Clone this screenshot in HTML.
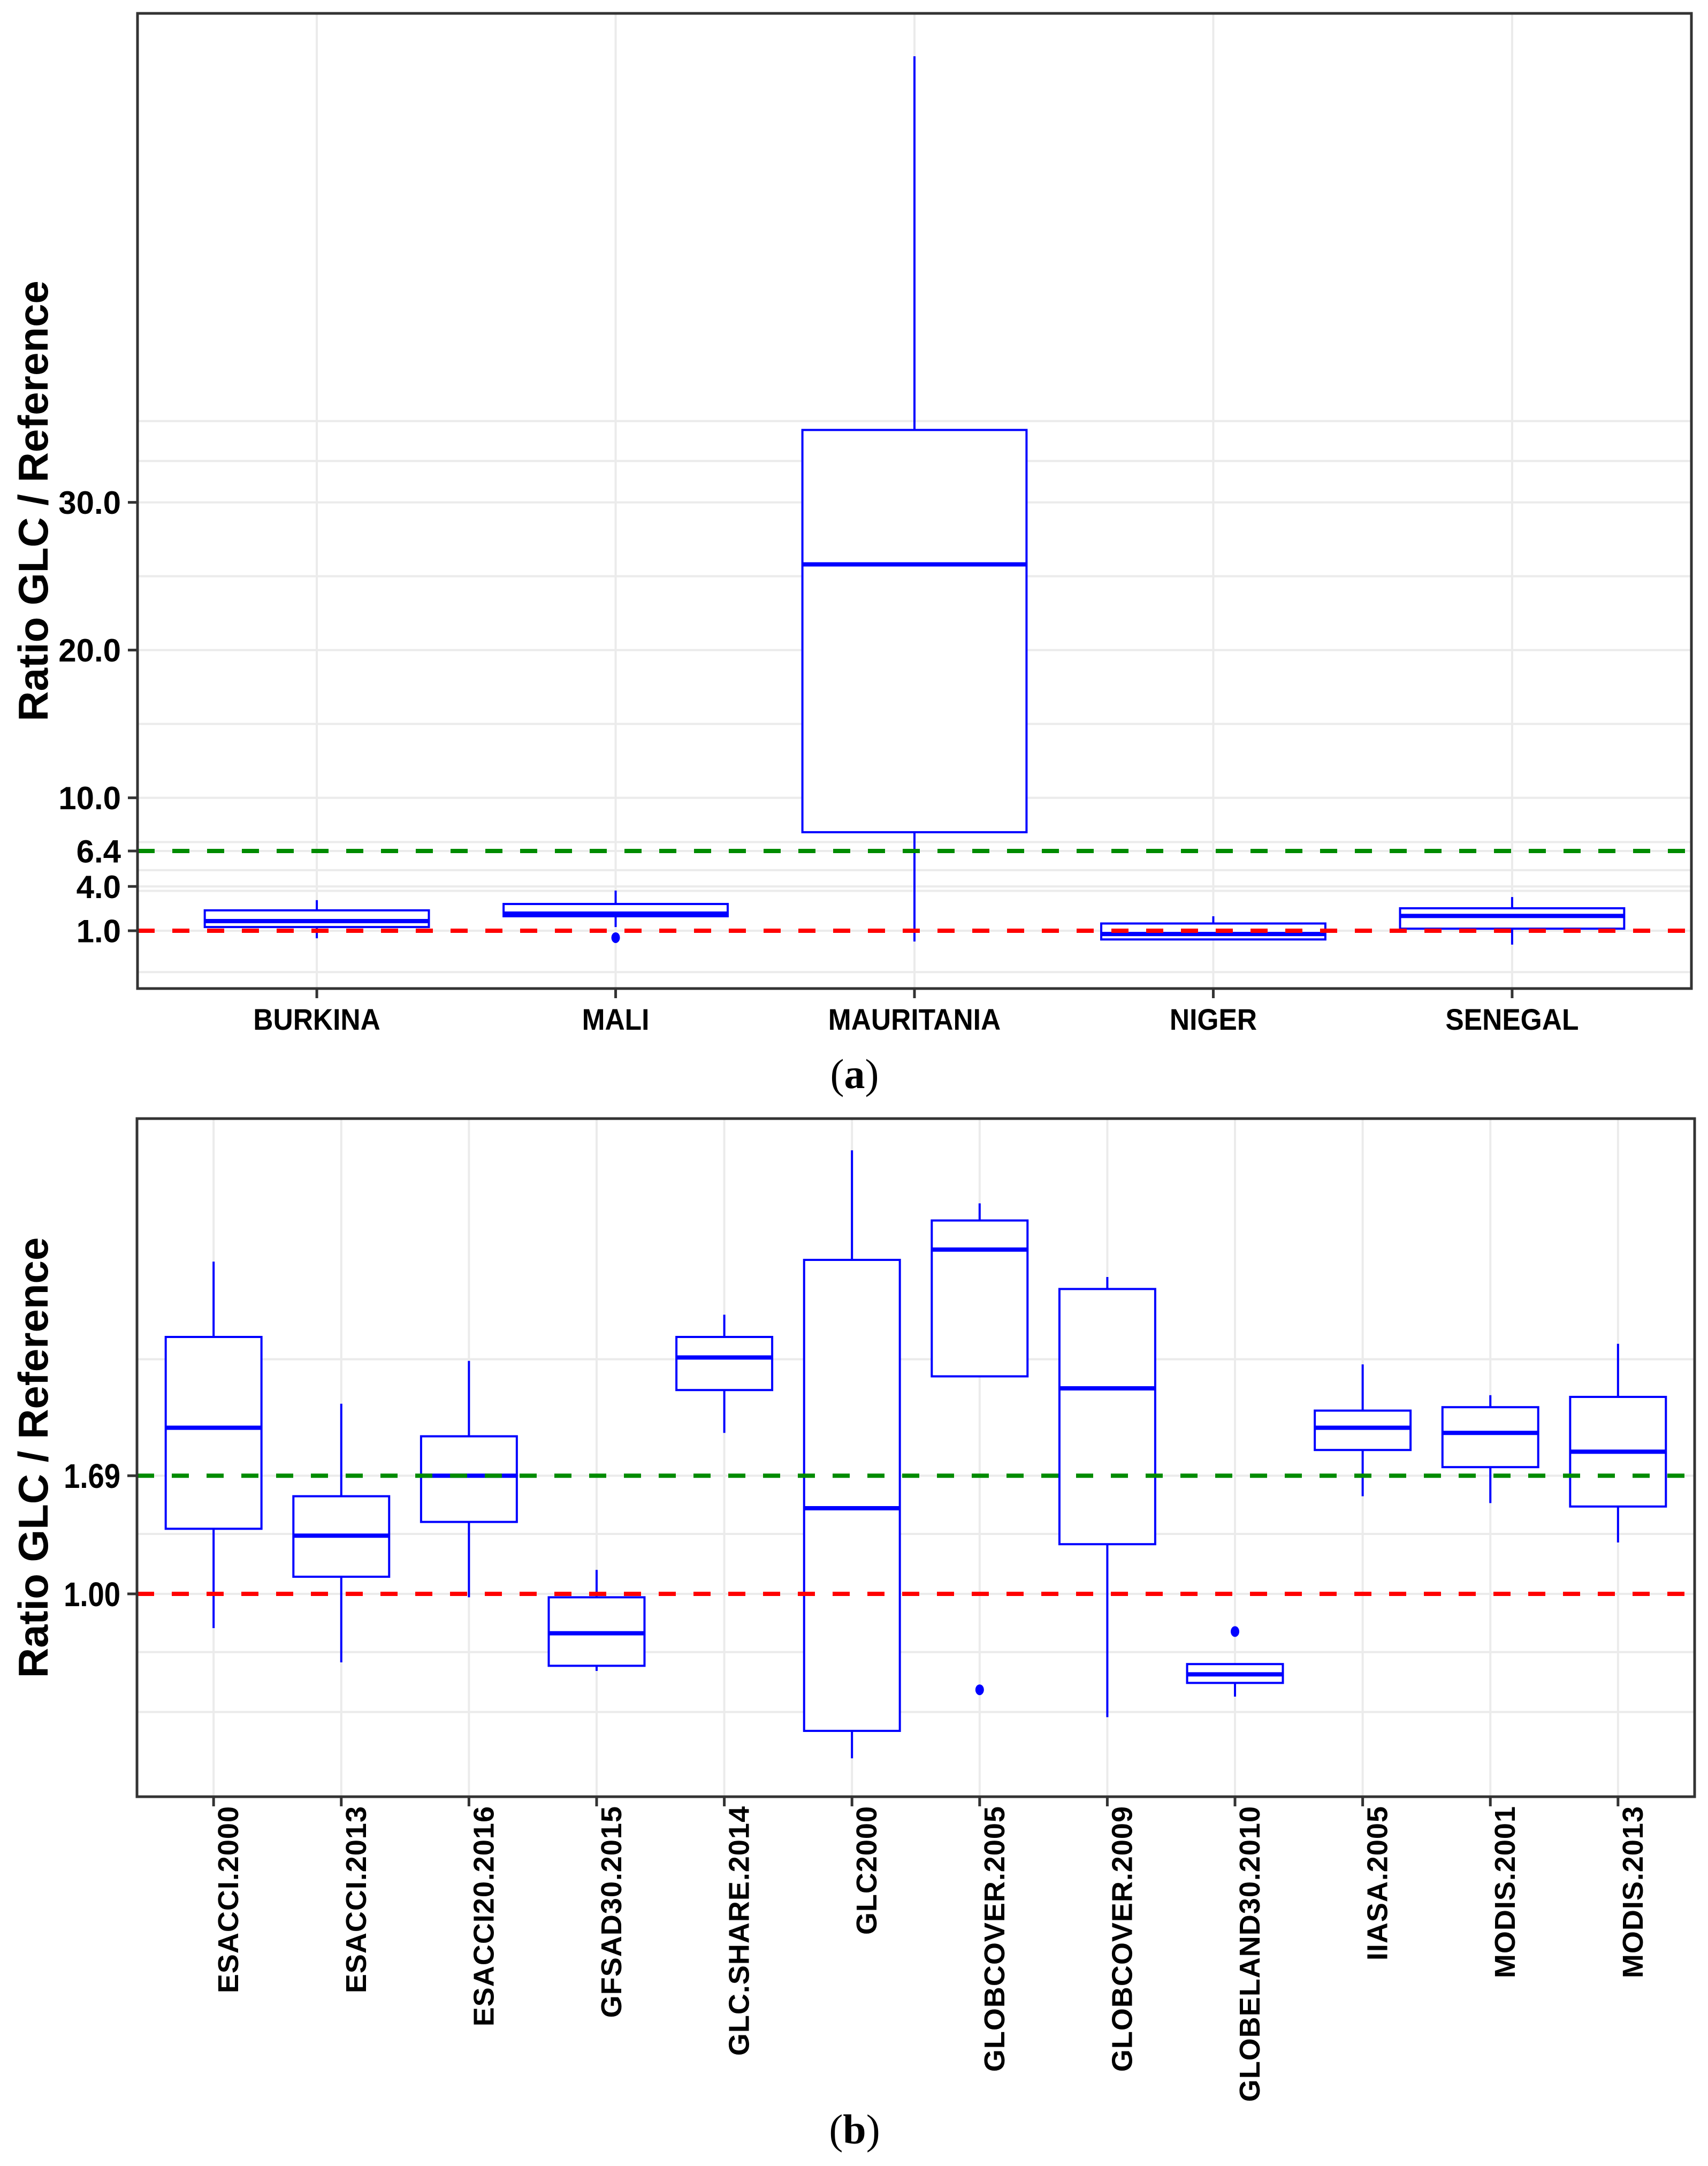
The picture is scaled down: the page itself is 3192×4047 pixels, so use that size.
<!DOCTYPE html>
<html><head><meta charset="utf-8"><style>
html,body{margin:0;padding:0;background:#fff;}
svg{display:block;}
text{font-family:"Liberation Sans",Arial,sans-serif;}
</style></head><body>
<svg id="fig" width="3192" height="4047" viewBox="0 0 3192 4047" xmlns="http://www.w3.org/2000/svg">
<rect x="0" y="0" width="3192" height="4047" fill="#fff"/>
<g id="pa"></g>
<g id="pb"></g>
<text x="1597" y="2033" text-anchor="middle" font-size="78" style="font-family:'Liberation Serif',serif">(<tspan font-weight="bold">a</tspan>)</text>
<text x="1597" y="4005" text-anchor="middle" font-size="78" style="font-family:'Liberation Serif',serif">(<tspan font-weight="bold">b</tspan>)</text>
</svg>
<script>
// Panel A data
const catsA = ["BURKINA","MALI","MAURITANIA","NIGER","SENEGAL"];
const lowA = [0.49,1.25,0.27,0.41,0.06];
const q1A = [1.25,1.98,7.67,0.41,1.14];
const medA = [1.65,2.16,25.8,0.78,2.0];
const q3A = [2.38,2.81,34.9,1.49,2.52];
const highA = [3.07,3.72,60.2,1.98,3.28];
const outA = [[],[0.53],[],[],[]];
const ticksA = [1.0,4.0,6.4,10.0,20.0,30.0];
const tickLabelsA = ["1.0","4.0","6.4","10.0","20.0","30.0"];
const minorA = [-1.8,3.7,5.1,7.0,15,25,32.8,35.5];
const refA = [1.0,6.4];

// Panel B data
const catsB = ["ESACCI.2000","ESACCI.2013","ESACCI20.2016","GFSAD30.2015","GLC.SHARE.2014","GLC2000","GLOBCOVER.2005","GLOBCOVER.2009","GLOBELAND30.2010","IIASA.2005","MODIS.2001","MODIS.2013"];
const lowB = [0.80,0.60,0.98,0.55,1.94,0.04,2.27,0.28,0.40,1.57,1.53,1.30];
const q1B = [1.38,1.10,1.42,0.58,2.19,0.20,2.27,1.29,0.48,1.84,1.74,1.51];
const medB = [1.97,1.34,1.69,0.77,2.38,1.50,3.01,2.20,0.53,1.97,1.94,1.83];
const q3B = [2.50,1.57,1.92,0.98,2.50,2.95,3.18,2.78,0.59,2.07,2.09,2.15];
const highB = [2.94,2.11,2.36,1.14,2.63,3.59,3.28,2.85,0.59,2.34,2.16,2.46];
const outB = [[],[],[],[],[],[],[0.44],[],[0.78],[],[],[]];
const ticksB = [1.00,1.69];
const tickLabelsB = ["1.00","1.69"];
const minorB = [0.31,0.66,1.35,2.37];
const refB = [1.00,1.69];

const NS="http://www.w3.org/2000/svg";
function mk(parent,tag,attrs){const e=document.createElementNS(NS,tag);for(const k in attrs)e.setAttribute(k,attrs[k]);parent.appendChild(e);return e;}

function panel(g,o){
  const L=o.left,R=o.right,T=o.top,B=o.bottom;
  const n=o.cats.length;
  const step=(R-L)/(n-1+1.2);
  const xs=i=>L+0.6*step+i*step;
  const ys=v=>o.y0-(v-o.v0)*o.k;
  for(const v of o.minor){const l=mk(g,'line',{x1:L,x2:R,y1:ys(v),y2:ys(v),stroke:'#ebebeb','stroke-width':4});
    }
  for(const v of o.ticks){const l=mk(g,'line',{x1:L,x2:R,y1:ys(v),y2:ys(v),stroke:'#ebebeb','stroke-width':4});
    }
  for(let i=0;i<n;i++){const l=mk(g,'line',{x1:xs(i),x2:xs(i),y1:T,y2:B,stroke:'#ebebeb','stroke-width':4});
    }
  const bw=step*0.75;
  for(let i=0;i<n;i++){
    const x=xs(i);
    const bg=mk(g,'g',{});
    
    
    mk(bg,'line',{x1:x,x2:x,y1:ys(o.high[i]),y2:ys(o.q3[i]),stroke:'#0000ff','stroke-width':4});
    mk(bg,'line',{x1:x,x2:x,y1:ys(o.q1[i]),y2:ys(o.low[i]),stroke:'#0000ff','stroke-width':4});
    mk(bg,'rect',{x:x-bw/2,y:ys(o.q3[i]),width:bw,height:Math.max(1,ys(o.q1[i])-ys(o.q3[i])),fill:'#fff',stroke:'#0000ff','stroke-width':4});
    mk(bg,'line',{x1:x-bw/2,x2:x+bw/2,y1:ys(o.med[i]),y2:ys(o.med[i]),stroke:'#0000ff','stroke-width':8});
    for(const v of o.out[i]){const c=mk(bg,'ellipse',{cx:x,cy:ys(v),rx:8,ry:10,fill:'#0000ff'});
      }
  }
  const colors=['#ff0000','#008b00'];
  o.refs.forEach((v,j)=>{const l=mk(g,'line',{x1:L,x2:R,y1:ys(v),y2:ys(v),stroke:colors[j],'stroke-width':8,'stroke-dasharray':'32 33'});
    });
  const fr=mk(g,'rect',{x:L,y:T,width:R-L,height:B-T,fill:'none',stroke:'#333','stroke-width':5});
  
  o.ticks.forEach((v,j)=>{
    mk(g,'line',{x1:L-18,x2:L,y1:ys(v),y2:ys(v),stroke:'#333','stroke-width':5});
    const tx=L-31;
    const t=mk(g,'text',{x:tx,y:ys(v)+o.yfs*0.36,'text-anchor':'end','font-size':o.yfs,'font-weight':'bold',fill:'#000',transform:`translate(${tx},0) scale(${o.ysx},1) translate(${-tx},0)`});
    t.textContent=o.tickLabels[j];
    
  });
  for(let i=0;i<n;i++){
    const x=xs(i);
    mk(g,'line',{x1:x,x2:x,y1:B,y2:B+18,stroke:'#333','stroke-width':5});
    let t;
    if(!o.rot){
      t=mk(g,'text',{x:x,y:B+77,'text-anchor':'middle','font-size':56,'font-weight':'bold',fill:'#000',transform:`translate(${x},0) scale(0.92,1) translate(${-x},0)`});
    } else {
      const tx=x+27,ty=B+17;
      t=mk(g,'text',{x:0,y:0,'text-anchor':'end','font-size':54,'font-weight':'bold','letter-spacing':1,fill:'#000',transform:`translate(${tx+19},${ty}) rotate(-90)`});
    }
    t.textContent=o.cats[i];
    
  }
  const cy=(T+B)/2;
  const tt=mk(g,'text',{x:0,y:0,'text-anchor':'middle','font-size':78,'font-weight':'bold',fill:'#000',transform:`translate(89,${cy}) rotate(-90)`});
  tt.textContent='Ratio GLC / Reference';
  
}

panel(document.getElementById('pa'),{left:257,right:3161,top:25,bottom:1847,y0:1739,v0:1,k:27.6,
  cats:catsA,low:lowA,q1:q1A,med:medA,q3:q3A,high:highA,out:outA,ticks:ticksA,tickLabels:tickLabelsA,minor:minorA,refs:refA,yfs:60,ysx:1,rot:false});
panel(document.getElementById('pb'),{left:256,right:3167,top:2090,bottom:3357,y0:2978,v0:1,k:320,
  cats:catsB,low:lowB,q1:q1B,med:medB,q3:q3B,high:highB,out:outB,ticks:ticksB,tickLabels:tickLabelsB,minor:minorB,refs:refB,yfs:64,ysx:0.85,rot:true});
</script>
</body></html>
